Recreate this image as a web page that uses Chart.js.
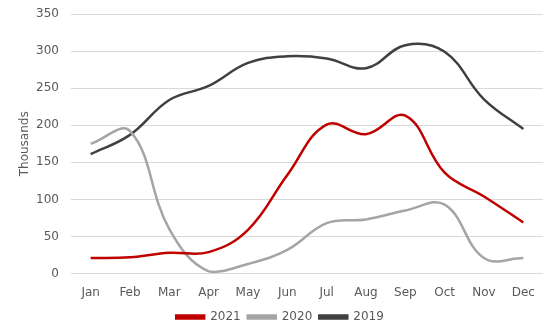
<!DOCTYPE html>
<html>
<head>
<meta charset="utf-8">
<script src="https://cdn.jsdelivr.net/npm/chart.js@4/dist/chart.umd.min.js"></script>
<style>
  html, body { margin: 0; padding: 0; background: #fff; }
  #wrap { width: 557px; height: 336px; }
</style>
</head>
<body>
<div id="wrap"><canvas id="chart" width="557" height="336"></canvas></div>
<script>
// month labels and values (thousands)
const months = ['Jan', 'Feb', 'Mar', 'Apr', 'May', 'Jun', 'Jul', 'Aug', 'Sep', 'Oct', 'Nov', 'Dec'];
const y2021 = [21, 22, 28, 29, 59, 133, 201, 188, 213, 136, 104, 69];
const y2020 = [175, 192, 60, 3, 13, 32, 68, 73, 85, 93, 21, 21];
const y2019 = [161, 187, 234, 253, 284, 293, 290, 277, 308, 299, 235, 195];
const yTicks = [0, 50, 100, 150, 200, 250, 300, 350];

const font = { family: 'DejaVu Sans', size: 12 };
const txt = '#595959';

function line(label, data, color) {
  return {
    label, data,
    borderColor: color, backgroundColor: color,
    borderWidth: 2.5, pointRadius: 0, tension: 0.4,
    fill: false
  };
}

new Chart(document.getElementById('chart'), {
  type: 'line',
  data: {
    labels: months,
    datasets: [
      line('2021', y2021, '#C00000'),
      line('2020', y2020, '#A5A5A5'),
      line('2019', y2019, '#404040')
    ]
  },
  options: {
    responsive: false,
    animation: false,
    layout: { padding: { top: 14, right: 14, left: 17, bottom: 3 } },
    plugins: {
      legend: {
        position: 'bottom',
        labels: { font, color: txt, boxWidth: 28, boxHeight: 3, padding: 7 }
      },
      tooltip: { enabled: false }
    },
    scales: {
      x: {
        offset: true,
        grid: { display: false },
        border: { display: false },
        ticks: { font, color: txt, padding: 4 }
      },
      y: {
        min: 0, max: 350,
        afterBuildTicks: (s) => { s.ticks = yTicks.map(v => ({ value: v })); },
        afterFit: (s) => { s.width = 54; s.paddingTop = 0; s.paddingBottom = 0; },
        grid: { color: '#D9D9D9', drawTicks: false },
        border: { display: false },
        ticks: { font, color: txt, padding: 12 },
        title: { display: true, text: 'Thousands', font, color: txt, padding: { top: 1, bottom: 0 } }
      }
    }
  }
});
</script>
</body>
</html>
